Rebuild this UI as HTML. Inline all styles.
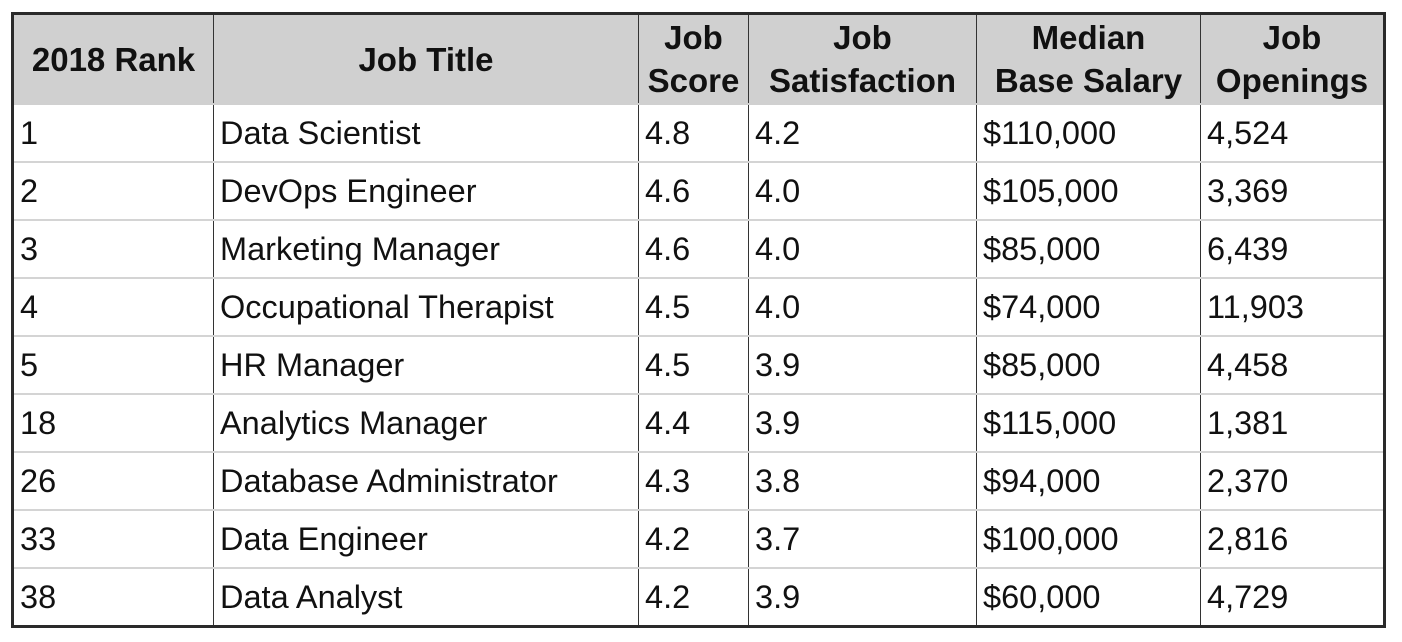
<!DOCTYPE html>
<html><head><meta charset="utf-8"><style>
html,body{margin:0;padding:0;background:#fff;width:1402px;height:642px;overflow:hidden}
table{position:absolute;left:11px;top:12px;border-collapse:collapse;border:3px solid #2a2a2a;font-family:"Liberation Sans",sans-serif;color:#111;table-layout:fixed}
th{background:#d0d0d0;font-weight:bold;font-size:33px;line-height:43px;height:88px;padding:0;text-align:center;border-left:1px solid #333;border-right:1px solid #333;border-bottom:2px solid #d0d0d0}
td{font-size:32.5px;height:56px;padding:0 0 0 6px;border-left:1px solid #333;border-right:1px solid #333;border-bottom:2px solid #d4d4d4;white-space:nowrap}
tr:last-child td{border-bottom:none}
</style></head><body>
<table>
<colgroup><col style="width:201px"><col style="width:425px"><col style="width:110px"><col style="width:228px"><col style="width:224px"><col style="width:184px"></colgroup>
<thead><tr>
<th>2018 Rank</th>
<th>Job Title</th>
<th>Job<br>Score</th>
<th>Job<br>Satisfaction</th>
<th>Median<br>Base Salary</th>
<th>Job<br>Openings</th>
</tr></thead>
<tbody>
<tr><td>1</td><td>Data Scientist</td><td>4.8</td><td>4.2</td><td>$110,000</td><td>4,524</td></tr>
<tr><td>2</td><td>DevOps Engineer</td><td>4.6</td><td>4.0</td><td>$105,000</td><td>3,369</td></tr>
<tr><td>3</td><td>Marketing Manager</td><td>4.6</td><td>4.0</td><td>$85,000</td><td>6,439</td></tr>
<tr><td>4</td><td>Occupational Therapist</td><td>4.5</td><td>4.0</td><td>$74,000</td><td>11,903</td></tr>
<tr><td>5</td><td>HR Manager</td><td>4.5</td><td>3.9</td><td>$85,000</td><td>4,458</td></tr>
<tr><td>18</td><td>Analytics Manager</td><td>4.4</td><td>3.9</td><td>$115,000</td><td>1,381</td></tr>
<tr><td>26</td><td>Database Administrator</td><td>4.3</td><td>3.8</td><td>$94,000</td><td>2,370</td></tr>
<tr><td>33</td><td>Data Engineer</td><td>4.2</td><td>3.7</td><td>$100,000</td><td>2,816</td></tr>
<tr><td>38</td><td>Data Analyst</td><td>4.2</td><td>3.9</td><td>$60,000</td><td>4,729</td></tr>
</tbody></table>
</body></html>
